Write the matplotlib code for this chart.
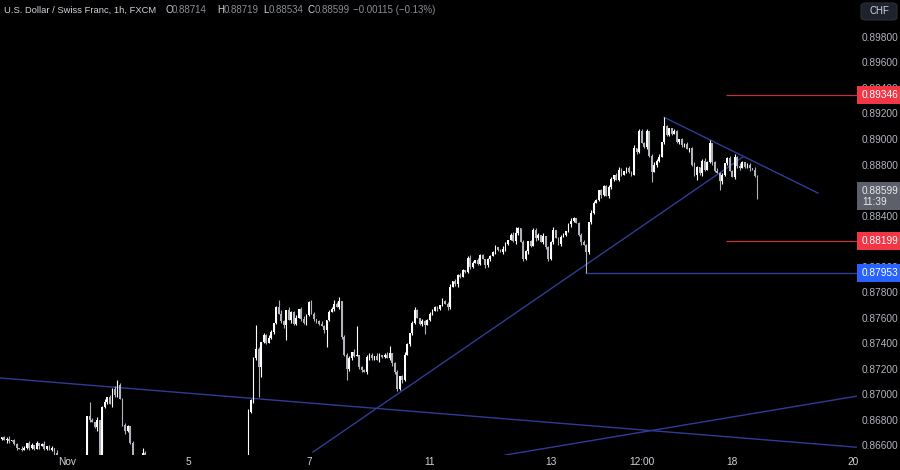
import matplotlib
matplotlib.use('Agg')
import matplotlib.pyplot as plt
import numpy as np
from matplotlib.patches import Rectangle, FancyBboxPatch
from matplotlib.transforms import blended_transform_factory

# Hourly closes, in pips (x 0.0001), grouped by trading day
oct31 = [8665, 8666, 8664, 8665, 8663, 8664, 8661, 8658, 8657, 8656, 8658, 8662, 8658, 8660,
         8657, 8662, 8659, 8661, 8657, 8659, 8656, 8658, 8654, 8648, 8642, 8638, 8635]
nov1 = [8632, 8630, 8628, 8631, 8629, 8633, 8630, 8636, 8683, 8680, 8678, 8674, 8680, 8642,
        8690, 8694, 8698, 8692, 8704, 8699, 8707, 8696, 8676, 8671]
nov4 = [8675, 8662, 8645, 8640, 8638, 8644, 8654, 8646, 8640, 8636, 8632, 8635, 8630, 8628,
        8625, 8630, 8634, 8638, 8636, 8632, 8628, 8624, 8620, 8618]
nov5 = [8622, 8626, 8630, 8634, 8638, 8635, 8632, 8636, 8640, 8638, 8634, 8630, 8626, 8622,
        8625, 8628, 8632, 8630, 8627, 8631, 8635, 8638, 8642, 8646]
nov6 = [8686, 8695, 8728, 8735, 8721, 8741, 8746, 8740, 8744, 8749, 8756, 8768, 8763, 8757,
        8754, 8766, 8758, 8764, 8755, 8760, 8767, 8759, 8756, 8762]
nov7 = [8772, 8763, 8759, 8757, 8755, 8753, 8750, 8758, 8764, 8767, 8771, 8768, 8773, 8745,
        8731, 8720, 8728, 8733, 8730, 8731, 8721, 8719, 8717, 8729]
nov8 = [8731, 8728, 8730, 8727, 8731, 8729, 8731, 8728, 8732, 8724, 8717, 8704, 8714, 8711,
        8731, 8739, 8748, 8756, 8766, 8760, 8755, 8757, 8754, 8758]
nov11 = [8763, 8765, 8768, 8767, 8770, 8773, 8771, 8768, 8784, 8789, 8786, 8793, 8792, 8797,
         8796, 8807, 8800, 8803, 8805, 8802, 8809, 8806, 8801, 8806]
nov12 = [8808, 8811, 8815, 8813, 8811, 8814, 8818, 8821, 8825, 8820, 8826, 8830, 8819, 8806,
         8812, 8820, 8816, 8829, 8822, 8825, 8819, 8824, 8815, 8806]
nov13 = [8819, 8829, 8822, 8818, 8823, 8825, 8828, 8833, 8836, 8838, 8834, 8825, 8819, 8817,
         8811, 8835, 8842, 8850, 8852, 8860, 8856, 8863, 8855, 8862]
nov14 = [8869, 8872, 8868, 8876, 8872, 8875, 8877, 8874, 8872, 8893, 8890, 8906, 8897, 8894,
         8906, 8887, 8874, 8880, 8883, 8886, 8898, 8910, 8903, 8909]
nov15 = [8904, 8906, 8898, 8900, 8895, 8896, 8892, 8893, 8880, 8872, 8878, 8873, 8883, 8876,
         8882, 8897, 8882, 8875, 8873, 8867, 8872, 8881, 8885, 8875]
nov18 = [8870, 8886, 8879, 8877, 8882, 8878, 8880, 8877, 8876, 8871, 8860]
first_open = 8664

# wick lengths in pips above / below the body
wick_up = ["101120 110210 120101 201102 101", "110201 120310 201201 120211",
           "101210 112011 020112 101201", "120110 210112 011021 011201",
           "211320 212101 231021 120121", "121012 102131 201120 210112",
           "110210 121012 012101 210211", "121102 112011 210121 021101",
           "112012 101211 021012 110201", "120121 012101 121021 101112",
           "101210 121201 211012 120110", "121011 201210 121101 211012",
           "101210 11020"]
wick_dn = ["110210 120101 211020 110121 011", "201102 110201 310120 211012",
           "110201 201120 110212 011021", "021101 120211 012101 120210",
           "312102 110121 012102 110212", "102110 211020 121021 101201",
           "211021 101210 121012 101210", "110211 021012 101121 011021",
           "201101 210121 011210 210112", "110120 112101 201121 012101",
           "120110 211021 012110 210211", "101211 021101 210121 012110",
           "012101 12010"]
# long wicks (candle index: price in pips)
big_highs = {36: 8694, 47: 8711, 57: 8658, 102: 8754, 111: 8774, 135: 8776, 142: 8753,
             155: 8738, 205: 8831, 212: 8830, 254: 8908, 257: 8908, 264: 8917, 267: 8907,
             282: 8899, 292: 8888, 301: 8872}
big_lows = {40: 8630, 103: 8698, 104: 8713, 114: 8742, 130: 8737, 138: 8711, 158: 8702,
            169: 8747, 208: 8804, 233: 8795, 259: 8866, 277: 8868, 286: 8860, 301: 8853}

# levels
res_level = 0.89346
sup_level = 0.88199
low_level = 0.87953
last_price = 0.88599
y_ticks = [0.866, 0.868, 0.870, 0.872, 0.874, 0.876, 0.878, 0.880, 0.884,
           0.888, 0.890, 0.892, 0.894, 0.896, 0.898]
x_tick_pos = [27, 75, 123, 171, 219, 255, 291, 339]
x_tick_lab = ['Nov', '5', '7', '11', '13', '12:00', '18', '20']

closes = oct31 + nov1 + nov4 + nov5 + nov6 + nov7 + nov8 + nov11 + nov12 + nov13 + nov14 + nov15 + nov18
c = np.array(closes) / 1e4
o = np.concatenate([[first_open / 1e4], c[:-1]])
up = np.array([int(d) for d in "".join(wick_up).replace(" ", "")]) / 1e4
dn = np.array([int(d) for d in "".join(wick_dn).replace(" ", "")]) / 1e4
h = np.maximum(o, c) + up
l = np.minimum(o, c) - dn
for k, v in big_highs.items():
    h[k] = v / 1e4
for k, v in big_lows.items():
    l[k] = v / 1e4
idx = np.arange(len(c))

fig = plt.figure(figsize=(9, 4.7), dpi=100, facecolor='black')
ax = fig.add_axes([0, 1 - 455 / 470, 857 / 900, 455 / 470])
ax.set_facecolor('black')
for s in ax.spines.values():
    s.set_visible(False)

up_col = '#ffffff'
dn_col = '#b0b3bb'
cols = np.where(c >= o, up_col, dn_col)
ax.vlines(idx, l, h, colors=cols, linewidth=0.8, zorder=3)
body = np.maximum(np.abs(c - o), 0.00007)
ax.bar(idx, body, bottom=np.minimum(o, c), width=0.7, color=cols, linewidth=0, zorder=3)

# trend lines
tl = '#2f3c96'
ax.plot([264, 325], [0.8917, 0.88576], color=tl, lw=1.0, zorder=2)
ax.plot([124.6, 295.2], [0.86545, 0.88859], color=tl, lw=1.0, zorder=2)
ax.axline((0.4, 0.87126), (339.7, 0.86584), color=tl, lw=1.0, zorder=2)
ax.axline((207.9, 0.86545), (340.5, 0.86984), color=tl, lw=1.0, zorder=2)
ax.hlines(low_level, 232.6, 345, color=tl, lw=1.0, zorder=2)
ax.hlines([res_level, sup_level], 288.5, 345, color='#c2303f', lw=0.9, zorder=2)

ax.set_xlim(0.4, 340.5)
ax.set_ylim(0.86522, 0.90090)

ax.yaxis.tick_right()
ax.set_yticks(y_ticks)
ax.set_yticklabels(['%.5f' % v for v in y_ticks])
ax.set_xticks(x_tick_pos)
ax.set_xticklabels(x_tick_lab)
ax.tick_params(axis='y', length=0, pad=3.6, labelsize=7.3, labelcolor='#b2b5be')
ax.tick_params(axis='x', length=0, pad=1.5, labelsize=7.3, labelcolor='#d1d4dc')
for t in ax.get_yticklabels() + ax.get_xticklabels():
    t.set_fontfamily('Liberation Sans')

# price labels on the axis
tr = blended_transform_factory(fig.transFigure, ax.transData)
px = 1 / 12750.0


def tag(price, color, text, hpx=18, txtcol='white'):
    ax.add_patch(Rectangle((857 / 900, price - hpx / 2 * px), 43 / 900, hpx * px,
                           transform=tr, facecolor=color, edgecolor='none',
                           clip_on=False, zorder=5))
    ax.text(862 / 900, price, text, transform=tr, color=txtcol, fontsize=7.3,
            family='Liberation Sans', va='center', ha='left', zorder=6,
            clip_on=False)


tag(res_level, '#f23645', '%.5f' % res_level)
tag(sup_level, '#f23645', '%.5f' % sup_level)
tag(low_level, '#2962ff', '%.5f' % low_level)
ax.add_patch(Rectangle((857 / 900, last_price - 20 * px), 43 / 900, 28 * px,
                       transform=tr, facecolor='#5d606b', edgecolor='none',
                       clip_on=False, zorder=5))
ax.text(862 / 900, last_price - 6 * px, '%.5f\n11:39' % last_price, transform=tr,
        color='#e8e9ec', fontsize=7.3, family='Liberation Sans', va='center',
        ha='left', zorder=6, clip_on=False, linespacing=1.15)

# currency box
fig.patches.append(FancyBboxPatch((861 / 900, 1 - 20 / 470), 36 / 900, 17 / 470,
                                  boxstyle='round,pad=0,rounding_size=0.006',
                                  transform=fig.transFigure, facecolor='#1e222d',
                                  edgecolor='#2a2e39', lw=0.8, zorder=5))
fig.text(879 / 900, 1 - 11.5 / 470, 'CHF', color='#d1d4dc', fontsize=7,
         family='Liberation Sans', ha='center', va='center', zorder=6)

# header
ty = 1 - 10 / 470
fig.text(4 / 900, ty, 'U.S. Dollar / Swiss Franc, 1h, FXCM', color='#d1d4dc',
         fontsize=6.75, family='Liberation Sans', va='center')
parts = [(165, 'O', '#d1d4dc'), (172, '0.88714', '#8a8d96'),
         (217, 'H', '#d1d4dc'), (224, '0.88719', '#8a8d96'),
         (263, 'L', '#d1d4dc'), (269, '0.88534', '#8a8d96'),
         (308, 'C', '#d1d4dc'), (315, '0.88599', '#8a8d96'),
         (353, '\u22120.00115 (\u22120.13%)', '#8a8d96')]
for x0, s, col in parts:
    fig.text(x0 / 900, ty, s, color=col, fontsize=7.0, family='Liberation Sans', va='center')

fig.savefig('out.png', dpi=100, facecolor='black')
